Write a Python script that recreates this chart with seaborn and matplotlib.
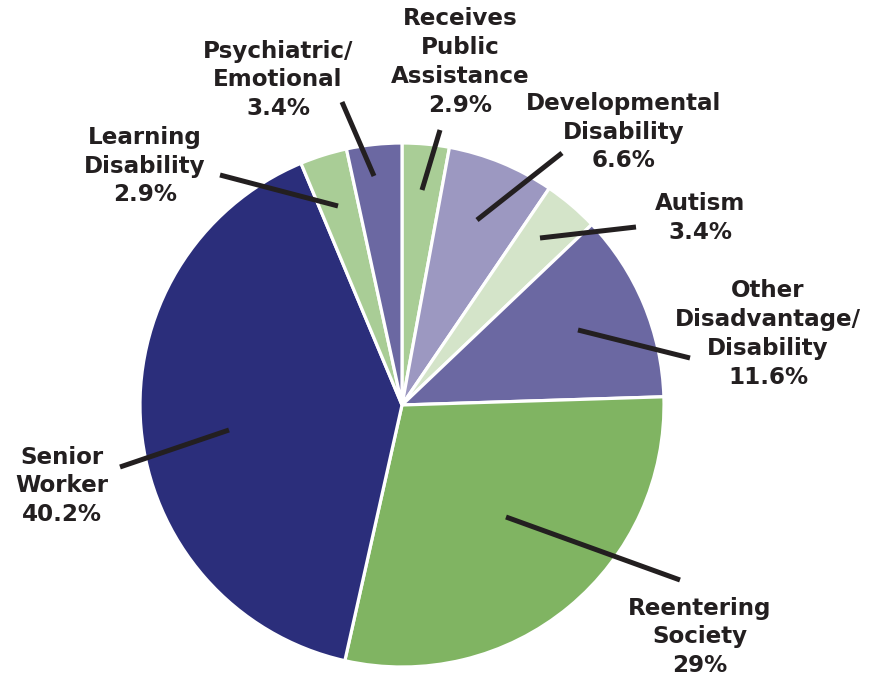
import matplotlib
matplotlib.use("Agg")
import matplotlib.pyplot as plt
import seaborn as sns

# slices, clockwise from 12 o'clock
labels = ["Receives\nPublic\nAssistance", "Developmental\nDisability", "Autism",
          "Other\nDisadvantage/\nDisability", "Reentering\nSociety", "Senior\nWorker",
          "Learning\nDisability", "Psychiatric/\nEmotional"]
pct_text = ["2.9%", "6.6%", "3.4%", "11.6%", "29%", "40.2%", "2.9%", "3.4%"]
values = [2.9, 6.6, 3.4, 11.6, 29.0, 40.2, 2.9, 3.4]
colors = ["#a9cd96", "#9c98c1", "#d4e4c9", "#6b68a2", "#80b462", "#2b2e7b", "#a9cd96", "#6b68a2"]

sns.set_theme(style="white")
plt.rcParams['font.family'] = ['DejaVu Sans']

W, H = 882, 677
fig = plt.figure(figsize=(W / 100, H / 100), dpi=100)
ax = fig.add_axes([0, 0, 1, 1])

def px(x, y):
    return x, H - y

ax.pie(values, colors=colors, startangle=90, counterclock=False,
       center=px(402, 405), radius=262, frame=True,
       wedgeprops=dict(edgecolor='white', linewidth=2.3))
ax.set_xlim(0, W)
ax.set_ylim(0, H)
ax.set_aspect('equal')
ax.axis('off')

# leader lines (inner end, outer end) and label centres, in pixels
lines = [((422, 190), (440, 130)), ((477, 220), (562, 153)), ((540, 238), (636, 227)),
         ((578, 330), (690, 358)), ((506, 517), (680, 580)), ((229, 430), (120, 467)),
         ((338, 206), (220, 175)), ((374, 176), (342, 102))]
spots = [(460, 62), (624, 132), (700, 218), (768, 334), (700, 637), (62, 486),
         (145, 166), (278, 80)]

ink = "#231f20"
for (a, b), (tx, ty), lab, pc in zip(lines, spots, labels, pct_text):
    ax.plot(*zip(px(*a), px(*b)), color=ink, linewidth=3.6, solid_capstyle='butt', zorder=5)
    ax.text(*px(tx, ty), lab + "\n" + pc, ha='center', va='center', fontsize=16.6,
            fontweight='bold', color=ink, linespacing=1.33, zorder=6)

fig.savefig("out.png", dpi=100, facecolor='white')
